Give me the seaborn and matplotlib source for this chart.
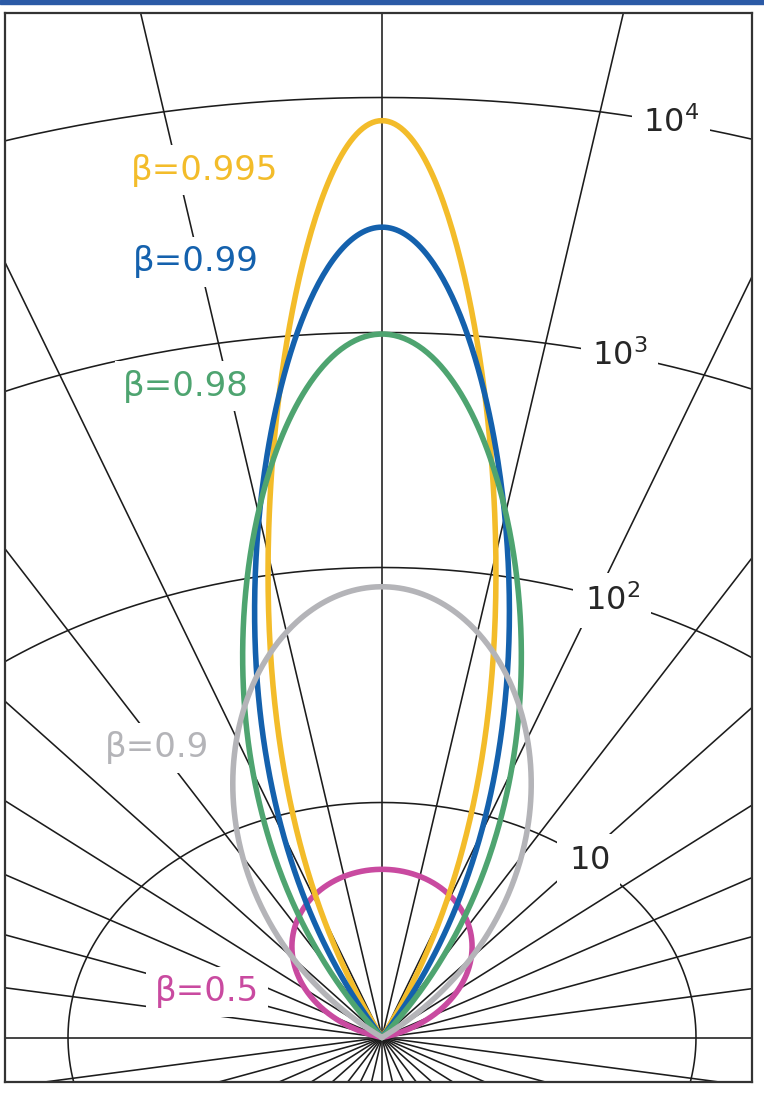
import numpy as np
import pandas as pd
import matplotlib
matplotlib.use("Agg")
import matplotlib.pyplot as plt
import seaborn as sns
from matplotlib.patches import Rectangle

# Source speeds (v/c) and their label colours, listed in drawing order
betas = [0.5, 0.995, 0.99, 0.98, 0.9]
beta_labels = ["β=0.5", "β=0.995", "β=0.99", "β=0.98", "β=0.9"]
beta_colors = ["#C94AA0", "#F3BC2A", "#1461AD", "#4EA470", "#B4B4B8"]
boost_power = 3  # observed intensity scales as delta**3

# Log-radial grid: rings at 10, 10^2, 10^3, 10^4 and spokes every 10 degrees
ring_decades = [1, 2, 3, 4]
ring_texts = [r"$\mathregular{10}$", r"$\mathregular{10^2}$",
              r"$\mathregular{10^3}$", r"$\mathregular{10^4}$"]
ring_label_angles = [41.2, 21.5, 14.6, 13.3]  # degrees from the jet axis
spoke_angles = np.arange(0, 360, 10)

# Label anchor points (in decades, x across / y along the jet axis)
beta_label_pos = [(-0.557, 0.194), (-0.564, 3.691), (-0.592, 3.300),
                  (-0.624, 2.772), (-0.717, 1.232)]

sns.set_style("white")
plt.rcParams["font.family"] = ["DejaVu Sans"]
plt.rcParams["mathtext.fontset"] = "dejavusans"

fig = plt.figure(figsize=(7.64, 11.01), dpi=100)
ax = fig.add_axes([5 / 764, 1 - 1082 / 1101, 747 / 764, 1069 / 1101])

# horizontal scale is wider than the vertical one (314 vs 235 px per decade)
ax.set_xlim(-377 / 314, 370 / 314)
ax.set_ylim(-44.5 / 235, 1024.5 / 235)
ax.set_aspect("auto")

grid_kw = dict(color="#1c1c1c", lw=1.15, zorder=1, solid_capstyle="butt")

# rings
phi = np.linspace(0, 2 * np.pi, 721)
for d in ring_decades:
    ax.plot(d * np.sin(phi), d * np.cos(phi), **grid_kw)

# spokes
for a in spoke_angles:
    t = np.radians(a)
    ax.plot([0, 10 * np.sin(t)], [0, 10 * np.cos(t)], **grid_kw)

# beaming patterns
theta = np.radians(np.linspace(-180, 180, 2401))
frames = []
for b, lab in zip(betas, beta_labels):
    gamma = 1.0 / np.sqrt(1 - b ** 2)
    delta = 1.0 / (gamma * (1 - b * np.cos(theta)))
    r = np.clip(boost_power * np.log10(delta), 0, None)
    frames.append(pd.DataFrame({"x": r * np.sin(theta),
                                "y": r * np.cos(theta),
                                "beta": lab}))
df = pd.concat(frames, ignore_index=True)

sns.lineplot(data=df, x="x", y="y", hue="beta", hue_order=beta_labels,
             palette=beta_colors, sort=False, estimator=None, lw=4.0,
             legend=False, ax=ax, zorder=4)

# ring labels sitting in gaps of the rings
for d, txt, ang in zip(ring_decades, ring_texts, ring_label_angles):
    t = np.radians(ang)
    ax.text(d * np.sin(t), d * np.cos(t), txt, fontsize=23, color="#262626",
            ha="center", va="center", zorder=3,
            bbox=dict(boxstyle="square,pad=0.35", fc="white", ec="none"))

# speed labels
for (x, y), lab, col in zip(beta_label_pos, beta_labels, beta_colors):
    ax.text(x, y, lab, fontsize=24.5, color=col, ha="center", va="center",
            zorder=3,
            bbox=dict(boxstyle="square,pad=0.25", fc="white", ec="none"))

ax.set_xticks([])
ax.set_yticks([])
ax.set_xlabel("")
ax.set_ylabel("")
for s in ax.spines.values():
    s.set_visible(True)
    s.set_color("#333333")
    s.set_linewidth(1.6)
    s.set_zorder(6)

# thin blue strip along the top edge of the page
fig.patches.append(Rectangle((0, 1 - 4 / 1101), 1, 4 / 1101,
                             transform=fig.transFigure, color="#2B5AA6",
                             zorder=10))

fig.savefig("out.png", dpi=100)
